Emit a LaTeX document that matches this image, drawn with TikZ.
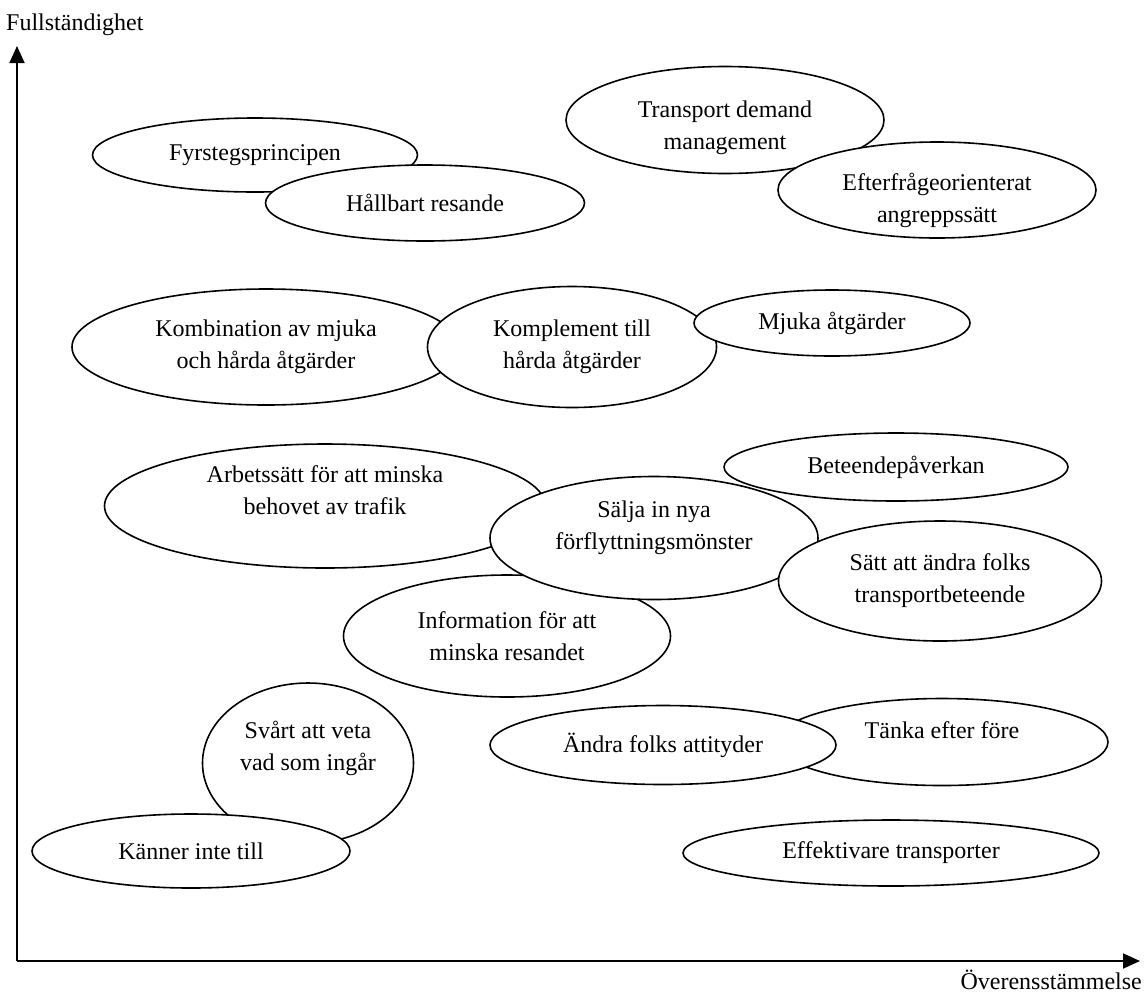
\documentclass[tikz,border=0pt]{standalone}
\usepackage{fontspec}
\setmainfont{Liberation Serif}
\usetikzlibrary{shapes.geometric, arrows.meta}

\begin{document}
\begin{tikzpicture}[x=1pt, y=-1pt,
    blob/.style={draw, fill=white, ellipse, line width=1.6pt, inner sep=0pt, align=center, font=\fontsize{24}{32}\selectfont},
    axis/.style={line width=1.8pt, -{Triangle[width=15pt, length=17pt]}}]
    \useasboundingbox (0,0) rectangle (1145,994);

    % axes
    \coordinate (origin) at (17,961);
    \coordinate (ytip) at (17,46);
    \coordinate (xtip) at (1140,961);
    \draw[axis] (origin) -- (ytip);
    \draw[axis] (origin) -- (xtip);
    \node[anchor=west, font=\fontsize{24}{32}\selectfont, inner sep=0pt] (ylabel) at (6,25) {Fullständighet};
    \node[anchor=east, font=\fontsize{24}{32}\selectfont, inner sep=0pt] (xlabel) at (1142,980) {Överensstämmelse};

    % top row
    \node[blob, minimum width=325pt, minimum height=74pt] (fyrsteg) at (255,155) {Fyrstegsprincipen};
    \node[blob, minimum width=319pt, minimum height=76pt] (hallbart) at (425,203) {Hållbart resande};
    \node[blob, minimum width=318pt, minimum height=107pt, text height=64.4pt, text depth=5.2pt] (tdm) at (725,120) {Transport demand\\management};
    \node[blob, minimum width=318pt, minimum height=96pt, text height=64pt, text depth=-5.2pt] (efterfragan) at (937,190) {Efterfrågeorienterat\\angreppssätt};

    % second row
    \node[blob, minimum width=388pt, minimum height=116pt] (kombination) at (266,347) {Kombination av mjuka\\och hårda åtgärder};
    \node[blob, minimum width=289pt, minimum height=121pt] (komplement) at (572,347) {Komplement till\\hårda åtgärder};
    \node[blob, minimum width=276pt, minimum height=66pt] (mjuka) at (832,323) {Mjuka åtgärder};

    % third row
    \node[blob, minimum width=344pt, minimum height=68pt] (beteende) at (896,467) {Beteendepåverkan};
    \node[blob, minimum width=441pt, minimum height=124pt, text height=17.2pt, text depth=0pt] (arbetssatt) at (325,506) {Arbetssätt för att minska\\behovet av trafik};
    \node[blob, minimum width=327pt, minimum height=122pt] (information) at (507,636) {Information för att\\minska resandet};
    \node[blob, minimum width=328pt, minimum height=123pt, text height=28.4pt, text depth=5.2pt] (salja) at (654,538) {Sälja in nya\\förflyttningsmönster};
    \node[blob, minimum width=323pt, minimum height=120pt] (satt) at (940,581) {Sätt att ändra folks\\transportbeteende};

    % bottom rows
    \node[blob, minimum width=332pt, minimum height=87pt, text height=16.4pt, text depth=23.2pt] (tanka) at (942,742) {Tänka efter före};
    \node[blob, minimum width=346pt, minimum height=79pt] (attityder) at (663,745) {Ändra folks attityder};
    \node[blob, minimum width=211pt, minimum height=160pt, text height=20.4pt, text depth=5.2pt] (svart) at (308,763) {Svårt att veta\\vad som ingår};
    \node[blob, minimum width=318pt, minimum height=74pt] (kanner) at (191,851) {Känner inte till};
    \node[blob, minimum width=416pt, minimum height=66pt] (effektiv) at (891,853) {Effektivare transporter};
\end{tikzpicture}
\end{document}
